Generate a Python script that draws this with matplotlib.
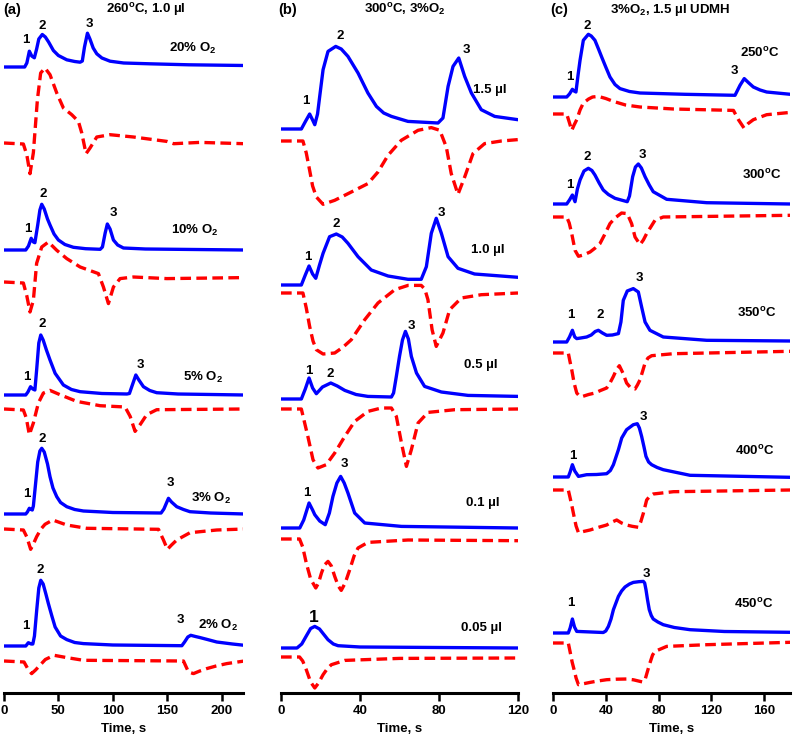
import numpy as np
import matplotlib
matplotlib.use('Agg')
import matplotlib.pyplot as plt

plt.rcParams['font.family'] = ['Liberation Sans', 'DejaVu Sans']
plt.rcParams['font.weight'] = 'bold'
plt.rcParams['mathtext.fontset'] = 'custom'
plt.rcParams['mathtext.rm'] = 'Liberation Sans:bold'
plt.rcParams['mathtext.it'] = 'Liberation Sans:bold'
plt.rcParams['mathtext.bf'] = 'Liberation Sans:bold'

# traces: (time s, signal a.u. above own baseline)
# panel (a) 260C, 1.0 ul, O2 series ------------------------------------------
a20_ms = [(0,0),(19,0),(21,4),(23.3,15.8),(25.5,11),(27.9,9.2),(30,18),(32,28),(35.2,32.5),(38,30),
          (41,25),(45.4,16.5),(50,11.5),(57.7,7.2),(65,5.5),(70,4.8),(72,6),(74,20),(76.7,33.8),(79,28),
          (82,19),(85.3,13.2),(90,9),(97.5,5.8),(110,4),(134,3.2),(170,2.2),(221,1.5)]
a20_co = [(0,0),(17.8,-1),(21,-12),(23.9,-30.7),(27,-9.7),(30.7,43.3),(33.7,70),(37.7,75),(42.3,68.3),
          (48.5,50),(54.6,35),(62.3,28.3),(68.4,21.6),(71.5,10),(75.4,-10.7),(79.1,-5),(85.3,6),(97.5,8.3),
          (119,6),(149.7,1.6),(156,-0.7),(180,0.6),(221,-0.7)]
a10_ms = [(0,0),(20,0),(22.5,4),(25,11.7),(27,8),(28.4,7.3),(31,25),(33,40),(34.7,45.7),(37,41),(40,31),
          (42.3,25),(46,16),(50,10),(56,5.5),(63.8,2.7),(75,1.3),(88.4,0.7),(90.5,3),(93,17),(95,26),
          (97.5,21),(100.6,10),(104.5,5),(109.8,2),(130,1),(221,0)]
a10_co = [(0,0),(17.8,-1),(21,-14),(23.9,-30),(27,-18.3),(30,18.7),(34.7,35),(40.8,40),(48.5,31.7),
          (57.7,23.4),(70,15),(86.8,8.4),(91.4,-5),(96,-21.6),(100.6,-5),(106.7,3.4),(119,5),(149.7,3.4),
          (221,4.4)]
a5_ms = [(0,0),(20,0),(22,3),(24.4,8.3),(26.5,6),(28.4,5),(30,25),(32,52),(33.8,60),(36,55),(39,45),
         (42.3,35),(47,21.7),(54.6,10),(62,5.5),(70,3.3),(90,1.5),(113,1),(115.3,1.5),(118,10),(121.2,20),
         (124,15),(128.2,8.3),(134,4.5),(140.4,2.3),(160,1),(221,0)]
a5_co = [(0,0),(17.8,-1),(20.5,-9),(23.3,-25.7),(27,-14),(31.6,6),(36.2,16),(42.3,18.6),(51.5,14.3),
         (66.9,7.6),(88.3,3.3),(111.3,2),(116,-7.4),(120.5,-22.4),(125.1,-15.7),(131.2,-5.7),(140.4,-0.7),
         (221,0)]
a3_ms = [(0,0),(20,0),(21.5,2),(23.3,5.7),(25,4.5),(26,4),(27,8),(29,30),(31,52),(33,63),(34.7,65.7),
         (37,62),(40,50),(42.3,37.3),(45,26),(48.5,17.3),(52,11.5),(57.7,7.3),(65,4.5),(73,3),(100,1.5),
         (144.4,1),(147,5),(151.2,15.7),(154,12),(158.8,7.3),(165,4.5),(171,2.3),(190,1),(221,0)]
a3_co = [(0,0),(17.8,-1),(21,-8),(24.5,-20.3),(27,-15),(30,-7.7),(34,0),(37.7,4.7),(44.8,9),(57.7,4),
         (76,0.7),(142,-0.3),(146.6,-11),(150.2,-20.3),(154,-16),(158.8,-11),(171,-3.7),(195.6,-1),(221,0)]
a2_ms = [(0,0),(20,0),(22.4,3.3),(25,2),(26.5,2),(28,10),(30,35),(32,58),(33.8,65.7),(36,62),(38.5,52),
         (40.8,42.4),(44,30),(47,19),(52,10),(57.7,6.4),(65,3.5),(73,2.4),(100,1),(163.5,0.3),(166,4),
         (169,9),(171.7,10.7),(176,9.5),(180.3,8.4),(187,6.5),(195.6,4),(210,2),(221,0.7)]
a2_co = [(0,0),(18.4,-1),(22,-8),(25.4,-12.6),(29,-9),(33,-4.3),(38,1.5),(46,5.7),(57.7,3.4),(73,0.7),
         (165,0),(167.5,-6),(169.6,-11),(174.2,-12.6),(180,-10),(186.4,-7.6),(195,-5),(204.8,-2.6),(221,0)]

# panel (b) 300C, 3% O2, volume series -------------------------------------
b15_ms = [(0,0),(10.3,0),(12.5,8),(14.5,15),(16,9),(17.1,4.3),(18.5,15),(19.6,32.6),(21.3,59.3),(23.8,77.6),
          (27.7,82.6),(30.5,80),(33.9,72.6),(39,56),(44,36),(48.3,22.6),(52,16),(55.9,12.6),(64.3,7.6),
          (79.5,6),(82,11),(84.6,42.6),(87.1,62.6),(90,71),(93,52.6),(96.4,36),(101.4,19.3),(108.2,12.6),
          (120,9.3)]
b15_co = [(0,0),(11.1,0),(12.8,-12),(14.5,-29.3),(16,-45),(17.9,-56),(21.3,-63.3),(27.2,-59.3),(35.6,-51),
          (44,-42.6),(49.1,-31),(54.2,-14.3),(60.9,0.7),(69.4,10.7),(76.1,13.4),(80.4,10.7),(83.7,-6),
          (86.2,-32.6),(89.6,-53.3),(93,-36),(97.2,-12.6),(103.1,-2.6),(111.6,0),(120,1.4)]
b10_ms = [(0,0),(10.3,0),(12.3,10),(14.2,19),(16,11),(17.6,6.7),(19.5,20),(21.3,31.7),(24.6,48.3),(28,51),
          (31,48),(33.9,41.7),(39,28.3),(45.7,15),(54.2,9),(64.3,5.7),(71,5.7),(73.6,18.3),(76.1,51.7),
          (78.6,66.7),(81.2,51.7),(84.6,28.3),(89.6,16.7),(98,11),(120,7.7)]
b10_co = [(0,0),(11.1,0),(12.8,-15),(14.5,-33.4),(16.2,-48),(17.9,-56.7),(21.3,-61),(27.2,-60),(31.5,-54),
          (35.6,-46.7),(42.4,-26.7),(49.1,-10),(57.6,3.3),(64.3,7.6),(71,7.6),(72.8,4),(74.4,-6.7),
          (76.5,-36.7),(78.6,-53.4),(82,-40),(85.4,-16.7),(91.3,-5),(101.4,-1.7),(120,0)]
b05_ms = [(0,0),(10.3,0),(12.3,10),(14.2,21),(16,11),(17.9,5.3),(21,12),(25.2,16),(28.5,13),(32.3,8.6),
          (38,4.5),(44,2.6),(55.9,2),(57,6),(58.4,22.6),(60,42.6),(61.5,59),(63,67.6),(64.5,60),(66,42.6),
          (68.6,26),(72.7,12.6),(81.2,7),(94.7,3.6),(120,2.6)]
b05_co = [(0,0),(10.3,0),(13.6,-27.4),(16.2,-50.7),(18.7,-59),(22.9,-55.7),(27.2,-44),(32.3,-27.4),
          (37.3,-12.4),(44,-2.4),(50.8,1),(55.9,1),(58.4,-7.4),(61,-34),(63.5,-57.4),(66,-40.7),(69.4,-14),
          (74.4,-3.4),(88,-0.7),(120,0)]
b01_ms = [(0,0),(9.5,0),(11.5,8),(14.2,25),(16,18),(17.1,13.3),(19.6,7),(22.4,3.3),(24.5,15),(26.3,31.6),
          (28.3,45),(30.2,51.6),(32,45),(33.9,35),(37.3,15),(42.4,5),(61,1.6),(120,0)]
b01_co = [(0,0),(9.4,0),(11,-8),(12.8,-24),(15,-40),(17.6,-49),(19,-44),(20.5,-34),(22,-26),(23.8,-22.4),
          (25.5,-27),(27.2,-37.4),(29,-47),(30.5,-51.4),(32.5,-44),(34.8,-30.7),(37,-17),(39,-9),(44,-3.4),
          (64.3,-1),(120,-1.7)]
b005_ms = [(0,0),(8.1,0),(10.5,4),(12.8,12),(15,19.5),(17.1,21.6),(19.5,19),(21.5,14),(23.8,8.3),
           (26.5,4),(28.9,2.3),(40,1),(120,0)]
b005_co = [(0,0),(9.4,0),(11,-4),(12.8,-12.7),(15,-25),(17.1,-31),(19,-26),(21.3,-17.7),(23.5,-11.5),
           (25.5,-7.7),(32.3,-3.4),(60,-1.4),(120,-1)]

# panel (c) 3% O2, 1.5 ul UDMH, temperature series --------------------------
c250_ms = [(0,0),(10.4,0),(12.5,3),(14.7,7.7),(16,6),(17.4,5),(19,22),(20.5,36.7),(23,56.7),(26.8,62.7),
           (29,61),(31.8,56.7),(34.5,48),(36.9,40),(40,30),(43.2,20),(47,12.5),(50.8,8.4),(58,5.5),(66,4),
           (100,2.7),(138,1.7),(141.8,11.7),(145,18.4),(148.5,14),(151.9,10),(157,7),(162,5),(180,2.7)]
c250_co = [(0,0),(10.4,0),(12.3,-8),(14.2,-16.4),(16,-11),(18,-5.7),(20.5,4),(23,11),(27,15),(30,17),
           (34.4,17.6),(40,15.5),(45.8,12.6),(55,9),(66,7),(91.3,5),(136.8,3.6),(140.6,-5.7),(144.8,-14),
           (148,-9.5),(151.9,-5.7),(162,-0.7),(180,1.6)]
c300_ms = [(0,0),(10.4,0),(12.5,4),(14.7,9),(16.7,2.3),(18.5,15),(20.5,24),(23.5,33),(26.8,35.7),
           (29.5,33.5),(31.8,29),(35,21),(38.1,14),(42,9.5),(47,5.7),(56.3,2.3),(58,8),(60.4,27.3),
           (62.5,37),(64.7,40),(67,36),(69.8,27.3),(73,19),(76,12.3),(86.2,4.7),(116.5,1.3),(180,0)]
c300_co = [(0,0),(10.4,0),(12.3,-6),(14.2,-16.6),(16.7,-33.3),(19.3,-39.3),(23,-38),(28.1,-35),(32,-31),
           (35.6,-26.6),(39,-18),(43.2,-6.6),(47,-1),(52,4),(56.3,3.4),(59.6,-6.6),(62.2,-20),(66,-27.6),
           (68.5,-23),(71,-16.6),(77.3,-3.3),(83.6,0),(180,1.7)]
c350_ms = [(0,0),(10.4,0),(12.5,5),(14.7,11.7),(16.5,5),(18,3.4),(21,4),(25.5,5),(29,7),(32,10.5),
           (34.4,11.7),(37.5,9),(40.7,6.7),(45,7),(49.6,8.4),(51.5,20),(53.3,41.7),(56.3,51),(60.9,53.4),
           (64.7,50),(67.2,35),(69.8,20),(73.5,11.7),(83.6,5),(116.5,1.7),(180,1)]
c350_co = [(0,0),(11.6,0),(12.8,-8),(14.2,-16.7),(16,-30),(18,-40),(20,-43),(22.5,-43.4),(27,-41.5),
           (31.8,-40),(36,-37.5),(40.7,-35),(43,-30.5),(45.8,-23.4),(48,-17),(50.3,-12.7),(53,-20),
           (55.8,-30),(59,-35),(62.2,-36),(64,-32),(66,-26.7),(68,-18),(69.8,-10),(72,-5),(74.8,-2.7),
           (91.3,-0.7),(180,1.7)]
c400_ms = [(0,0),(11.6,0),(13,5),(14.7,12.3),(16.5,6),(19.3,0.6),(25.5,2.3),(33,2.5),(40.7,3.3),(43.5,6.5),
           (45.8,12.3),(49.6,27.3),(52.1,39),(55.8,47.3),(60.9,52.3),(63.9,53.3),(65.5,49),(67.2,40.6),
           (69,30),(70.5,20.6),(72.5,15),(74.8,12.3),(79,9.5),(83.6,7.3),(103.9,1.7),(180,-0.3)]
c400_co = [(0,0),(11.6,0),(13,-8),(14.5,-17),(16,-26.7),(17.5,-36),(19.3,-42.7),(23,-41.5),(28.1,-40),
           (34,-37.5),(40.7,-35),(44,-32.5),(48.3,-30),(52,-33),(55.8,-35),(60,-36.3),(64.7,-37.3),
           (66.5,-32),(68.5,-23.3),(71,-10),(73.5,-6),(76,-4),(91.3,-1.7),(180,0)]
c450_ms = [(0,0),(11.6,0),(13,5),(14.7,14),(16.3,6),(18,1.6),(38.1,0.5),(40,2),(42,6.6),(44,14),(45.8,23.3),
           (49.6,36.6),(52,42),(54.6,46),(58,49),(60.9,50.6),(65,51.3),(68.5,51.6),(69.5,50),(70.5,43.3),
           (71.7,33),(73,23.3),(74.5,17.5),(76,14),(79.5,11),(83.6,8.3),(92,5.5),(103.9,3.3),(130,1.5),
           (180,0.7)]
c450_co = [(0,0),(11.6,0),(13,-9),(14.5,-19),(16,-26.7),(17.5,-35),(19.3,-41.7),(24,-40.5),(28.1,-39.4),
           (34,-38),(40.7,-36.7),(48,-36.2),(55.8,-36),(61,-36.8),(66,-38.4),(68,-39),(69.8,-36.7),
           (71.7,-28),(73.5,-20),(75.5,-12),(77.3,-8.4),(86.2,-3.4),(116.5,-1.7),(180,0.7)]

# vertical offsets of each trace (blue, red)
a_offsets = [(626, 550), (443, 411), (298, 284), (179, 164), (47, 32)]
b_offsets = [(564, 552), (408, 400), (294, 284), (165, 154), (45, 36)]
c_offsets = [(596, 579), (489, 476), (351, 340), (216, 203), (60, 50)]

a_traces = [(a20_ms, a20_co), (a10_ms, a10_co), (a5_ms, a5_co), (a3_ms, a3_co), (a2_ms, a2_co)]
b_traces = [(b15_ms, b15_co), (b10_ms, b10_co), (b05_ms, b05_co), (b01_ms, b01_co), (b005_ms, b005_co)]
c_traces = [(c250_ms, c250_co), (c300_ms, c300_co), (c350_ms, c350_co), (c400_ms, c400_co), (c450_ms, c450_co)]

# trace names and where they sit
a_names = ['20% O$_2$', '10% O$_2$', '5% O$_2$', '3% O$_2$', '2% O$_2$']
a_name_pos = [(173.8, 645), (175.6, 463), (183.3, 316), (190.3, 195), (197, 68)]
b_names = ['1.5 µl', '1.0 µl', '0.5 µl', '0.1 µl', '0.05 µl']
b_name_pos = [(105.7, 603), (104.8, 443), (101.4, 328), (102.3, 190), (101.4, 65)]
c_names = ['250$^{o}$C', '300$^{o}$C', '350$^{o}$C', '400$^{o}$C', '450$^{o}$C']
c_name_pos = [(156.9, 640), (158.2, 518), (154.4, 380), (153.1, 242), (151.9, 89)]

# peak numbers
a_peaks = [('1', 20.2, 653), ('2', 35.2, 667), ('3', 78.4, 669),
           ('1', 21.8, 464), ('2', 36.1, 499), ('3', 100.5, 480),
           ('1', 21.4, 316), ('2', 34.7, 369), ('3', 125.7, 328),
           ('1', 20.9, 199), ('2', 35.2, 254), ('3', 153.3, 210),
           ('1', 20.2, 67), ('2', 33.7, 123), ('3', 161.8, 73)]
b_peaks = [('1', 12.8, 592), ('2', 30.2, 657), ('3', 93.8, 643),
           ('1', 13.7, 436), ('2', 28, 469), ('3', 81.2, 480),
           ('1', 14, 322), ('2', 24.7, 319), ('3', 66, 367),
           ('1', 13.3, 200), ('3', 31.9, 229)]
c_peaks = [('1', 12.9, 616), ('2', 26.3, 667), ('3', 137.5, 622),
           ('1', 12.9, 508), ('2', 26.3, 536), ('3', 67.7, 538),
           ('1', 13.6, 378), ('2', 35.6, 378), ('3', 65.4, 415),
           ('1', 14.9, 237), ('3', 68.5, 276),
           ('1', 13.6, 90), ('3', 70.5, 119)]

panels = [
    dict(tag='(a)', title='260$^{o}$C, 1.0 µl', xlim=220, ticks=[0, 50, 100, 150, 200],
         traces=a_traces, offsets=a_offsets, names=a_names, name_pos=a_name_pos, peaks=a_peaks,
         rect=[4, 239.3], tag_x=-0.9, title_x=130.6),
    dict(tag='(b)', title='300$^{o}$C, 3%O$_2$', xlim=120, ticks=[0, 40, 80, 120],
         traces=b_traces, offsets=b_offsets, names=b_names, name_pos=b_name_pos, peaks=b_peaks,
         rect=[281, 237], tag_x=-1.5, title_x=62.6),
    dict(tag='(c)', title='3%O$_2$, 1.5 µl UDMH', xlim=180, ticks=[0, 40, 80, 120, 160],
         traces=c_traces, offsets=c_offsets, names=c_names, name_pos=c_name_pos, peaks=c_peaks,
         rect=[553, 237.4], tag_x=-2.3, title_x=88.7),
]

W, H = 794, 742
fig = plt.figure(figsize=(W / 100, H / 100), dpi=100)
fs = 9.5

for p in panels:
    left, width = p['rect']
    ax = fig.add_axes([left / W, 49 / H, width / W, 668 / H])

    for (ms, co), (off_ms, off_co) in zip(p['traces'], p['offsets']):
        t, s = zip(*ms)
        ax.plot(t, np.array(s) + off_ms, color='#0000ff', lw=2.4, solid_capstyle='round')
        t, s = zip(*co)
        ax.plot(t, np.array(s) + off_co, color='#ff0000', lw=2.4, ls=(0, (3.2, 1.6)))

    for name, (x, y) in zip(p['names'], p['name_pos']):
        ax.text(x, y, name, ha='center', va='center', fontsize=fs, fontweight='bold')
    for lab, x, y in p['peaks']:
        ax.text(x, y, lab, ha='center', va='center', fontsize=fs, fontweight='bold')

    ax.text(p['tag_x'], 683, p['tag'], ha='left', va='center', fontsize=10.5, fontweight='bold')
    ax.text(p['title_x'], 683, p['title'], ha='center', va='center', fontsize=fs, fontweight='bold')

    ax.set_xlim(0, p['xlim'])
    ax.set_ylim(0, 668)
    ax.set_xticks(p['ticks'])
    ax.set_yticks([])
    for side in ['left', 'right', 'top']:
        ax.spines[side].set_visible(False)
    ax.spines['bottom'].set_linewidth(2.2)
    ax.tick_params(axis='x', length=6, width=1.8, labelsize=fs, pad=3)
    ax.set_xlabel('Time, s', fontsize=fs, fontweight='bold', labelpad=4)
    ax.patch.set_alpha(0)

# bigger label for the 0.05 ul peak
fig.axes[1].text(16.7, 76, '1', ha='center', va='center', fontsize=12.5, fontweight='bold')

fig.savefig('out.png', dpi=100)
